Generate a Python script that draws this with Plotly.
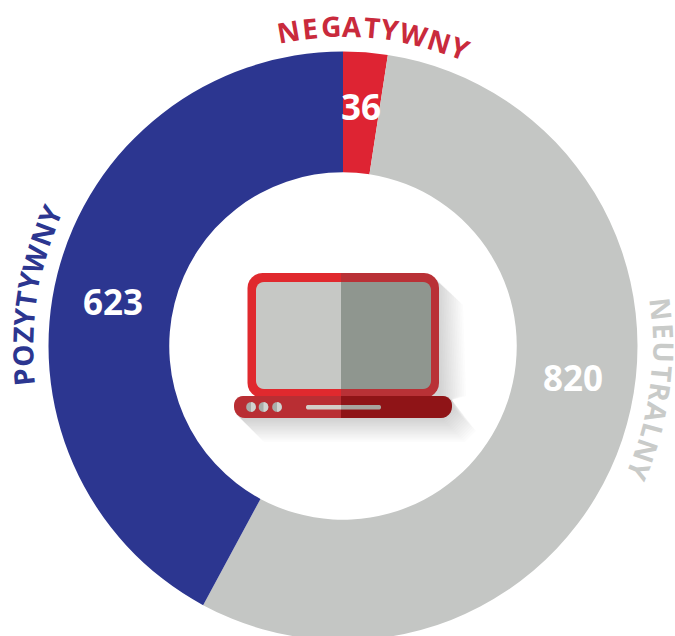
import plotly.graph_objects as go
import math

categories = ["NEGATYWNY", "NEUTRALNY", "POZYTYWNY"]
values = [36, 820, 623]
colors = ["#de2433", "#c4c6c4", "#2c3690"]
label_colors = ["#c92a3c", "#c9cbc9", "#2c3690"]

W, H = 675, 660
CX, CY, R = 343, 346, 294.5

def px(x, y):
    return x / W, 1 - y / H

def path(points, close=True):
    s = ""
    for i, p in enumerate(points):
        if isinstance(p, tuple):
            x, y = px(*p)
            s += f"{'M' if i == 0 else 'L'} {x:.5f} {y:.5f} "
    return s + ("Z" if close else "")

def rrect(x0, y0, x1, y1, rtl, rtr, rbr, rbl):
    def arc(cx, cy, r, a0):
        if r == 0:
            return [(cx, cy)]
        return [(cx + r * math.cos(math.radians(a0 + t * 15)),
                 cy + r * math.sin(math.radians(a0 + t * 15))) for t in range(7)]
    return arc(x0 + rtl, y0 + rtl, rtl, 180) + arc(x1 - rtr, y0 + rtr, rtr, 270) + \
        arc(x1 - rbr, y1 - rbr, rbr, 0) + arc(x0 + rbl, y1 - rbl, rbl, 90)

def clip(points, xmin=None, xmax=None):
    out = []
    n = len(points)
    for i in range(n):
        a, b = points[i], points[(i + 1) % n]
        ins = lambda p: (xmin is None or p[0] >= xmin) and (xmax is None or p[0] <= xmax)
        edge = xmin if xmin is not None else xmax
        if ins(a):
            out.append(a)
        if ins(a) != ins(b):
            t = (edge - a[0]) / (b[0] - a[0])
            out.append((edge, a[1] + t * (b[1] - a[1])))
    return out

shapes = []
def add(points, color, opacity=1):
    shapes.append(dict(type="path", xref="paper", yref="paper", path=path(points),
                       fillcolor=color, opacity=opacity, line=dict(width=0), layer="above"))

# soft diagonal shadow of the laptop
for d in range(2, 32, 2):
    add([(430, 275), (436 + d * 0.9, 278 + d * 0.9), (439 + d * 0.9, 396), (452, 400),
         (452 + d * 0.8, 407 + d * 0.8), (441 + d * 0.8, 418 + d * 0.8),
         (240 + d * 0.8, 418 + d * 0.8), (236, 414)], "#707070", 0.02)

SPLIT = 341
def halves(points, left, right):
    add(clip(points, xmax=SPLIT), left)
    add(clip(points, xmin=SPLIT), right)

halves(rrect(247.5, 273, 439, 398, 15, 15, 15, 15), "#e0292e", "#b93136")
halves(rrect(256, 282, 431, 389, 8, 8, 8, 8), "#c6c8c5", "#8f968f")
halves(rrect(234, 396, 452, 418, 9, 9, 11, 11), "#b92e33", "#8f1417")
halves(rrect(306, 405, 381, 409.5, 2, 2, 2, 2), "#d3cfc9", "#a8a59f")
for cx in (251, 263.5, 277):
    add(rrect(cx - 4.8, 402.2, cx + 4.8, 411.8, 4.8, 4.8, 4.8, 4.8), "#a9aeaa")
    add(rrect(cx, 402.2, cx + 4.8, 411.8, 0, 4.8, 4.8, 0), "#d2d4d1")

annotations = []
def note(x, y, text, size, color, angle=0, weight=700):
    ax, ay = px(x, y)
    annotations.append(dict(x=ax, y=ay, xref="paper", yref="paper", text=text, showarrow=False,
                            xanchor="center", yanchor="middle", textangle=angle,
                            font=dict(family="Open Sans", size=size, color=color, weight=weight)))

for v, (x, y) in zip(values, [(361, 106), (573, 377), (113, 301)]):
    note(x, y, str(v), 35, "#ffffff")

# letter advance widths, to space the curved labels
ADV = dict(N=.76, E=.56, G=.72, A=.63, T=.56, Y=.58, W=.9, P=.6, O=.78, Z=.56, U=.74, R=.62, L=.52)
def curved(word, a0, a1, r, size, color):
    w = [ADV[c] for c in word]
    total = sum(w) - (w[0] + w[-1]) / 2
    pos = 0
    for i, c in enumerate(word):
        ang = a0 + (a1 - a0) * pos / total
        x = CX + r * math.sin(math.radians(ang))
        y = CY - r * math.cos(math.radians(ang))
        note(x, y, c, size, color, angle=ang)
        if i < len(word) - 1:
            pos += (w[i] + w[i + 1]) / 2

curved(categories[0], -9.8, 21.5, 320, 28, label_colors[0])
curved(categories[1], 83.5, 113, 321, 28, label_colors[1])
curved(categories[2], -95.6, -65.8, 321, 28, label_colors[2])

fig = go.Figure(go.Pie(
    labels=categories, values=values, sort=False, direction="clockwise", rotation=0,
    hole=0.59, marker=dict(colors=colors, line=dict(width=0)), textinfo="none",
    hoverinfo="label+value", showlegend=False,
    domain=dict(x=[(CX - R) / W, (CX + R) / W], y=[1 - (CY + R) / H, 1 - (CY - R) / H]),
))
fig.update_layout(width=W, height=H, autosize=False, margin=dict(l=0, r=0, t=0, b=0),
                  paper_bgcolor="white", plot_bgcolor="white", shapes=shapes, annotations=annotations)
fig.write_html("out.html", config=dict(displayModeBar=False),
               post_script="document.body.style.margin='0';document.documentElement.style.overflow='hidden';")
